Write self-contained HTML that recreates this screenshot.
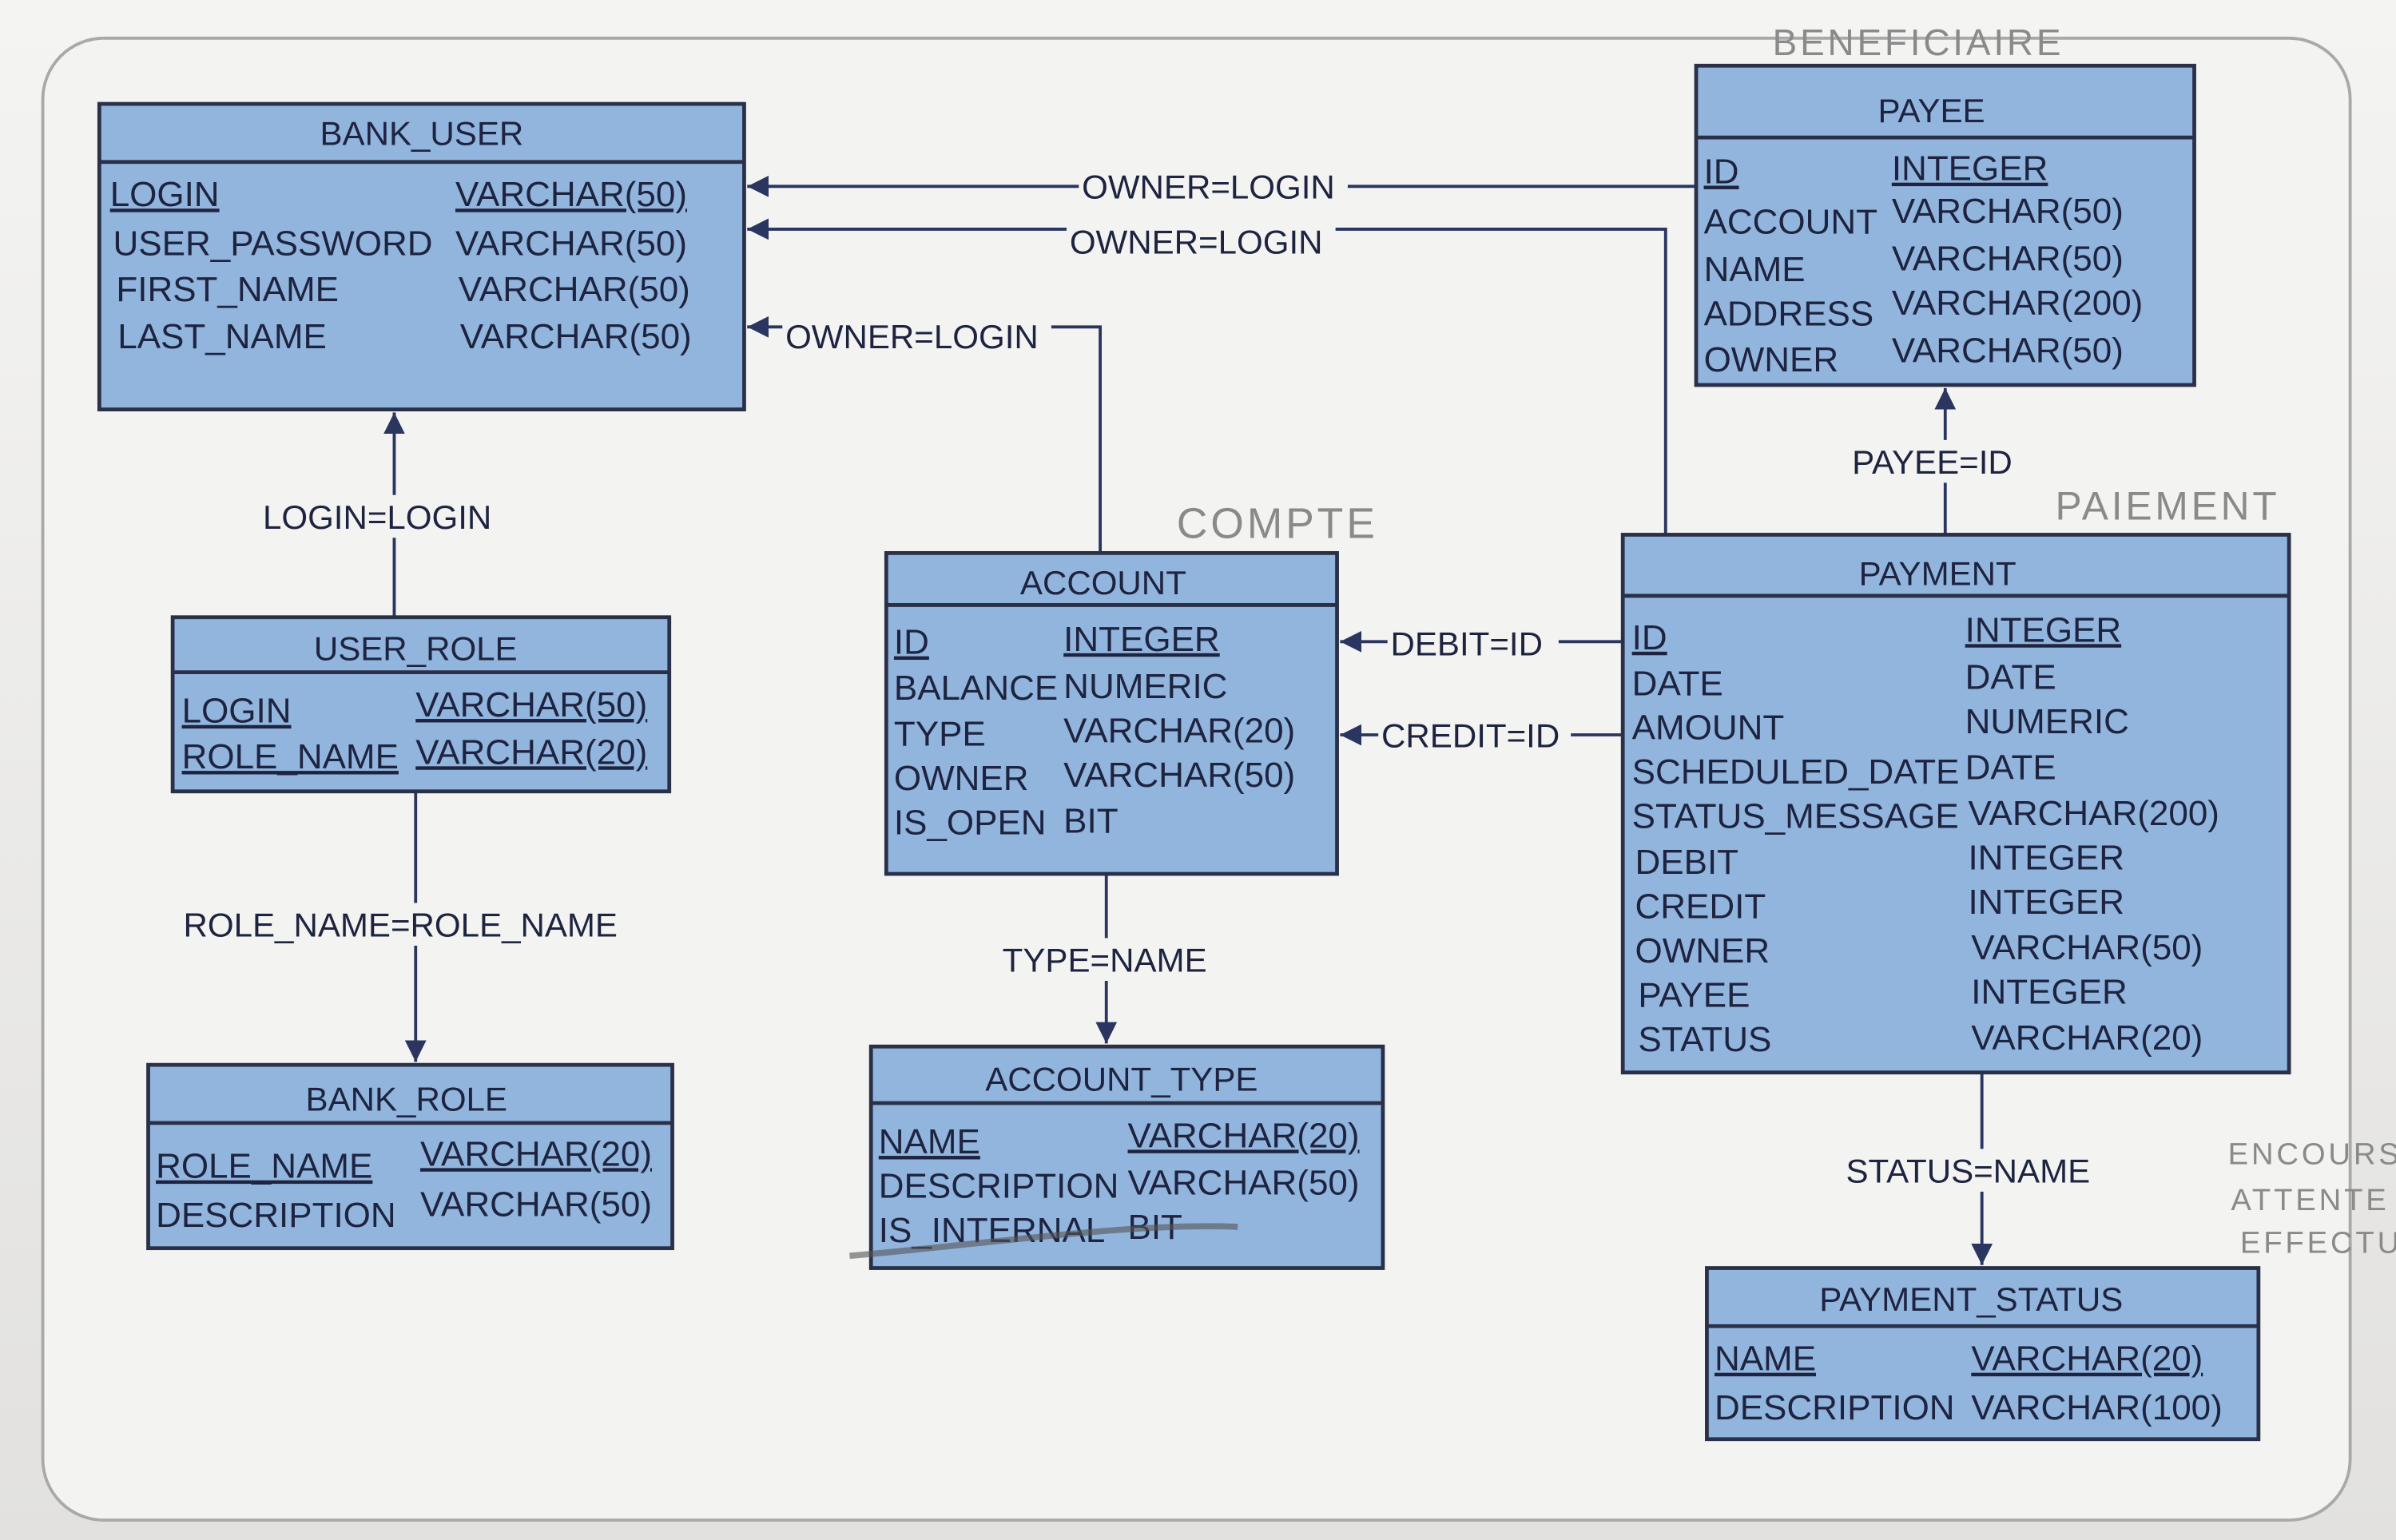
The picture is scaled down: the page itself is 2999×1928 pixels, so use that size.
<!DOCTYPE html>
<html><head><meta charset="utf-8"><style>
html,body{margin:0;padding:0;background:#eceae6;}
svg{display:block;}
text{font-family:"Liberation Sans",sans-serif;fill:#1e2440;}
.t{font-size:23px;}
.h{font-size:22px;text-anchor:middle;}
.l{font-size:22px;}
.hw{font-family:"Liberation Sans",sans-serif;font-size:28px;fill:#8a8a8a;letter-spacing:2px;}
</style></head><body>
<svg width="2999" height="1928" viewBox="0 0 1568 1008" preserveAspectRatio="none" xmlns="http://www.w3.org/2000/svg">
<defs>
<linearGradient id="bg" x1="0" y1="0" x2="0" y2="1"><stop offset="0" stop-color="#f4f4f2"/><stop offset="1" stop-color="#e2e1df"/></linearGradient>
<marker id="a" viewBox="0 0 10 10" refX="10" refY="5" markerWidth="7" markerHeight="7" orient="auto-start-reverse"><path d="M0,0 L10,5 L0,10 z" fill="#2a3560"/></marker>
</defs>
<rect width="1568" height="1008" fill="url(#bg)"/>
<rect x="28" y="25" width="1510" height="970" rx="40" fill="#f3f3f1" stroke="#a9a9a9" stroke-width="2"/>

<g stroke="#2a3560" stroke-width="2" fill="none">
<path d="M1110,122 H489" marker-end="url(#a)"/>
<path d="M1090,358 V150 H489" marker-end="url(#a)"/>
<path d="M720,362 V214 H489" marker-end="url(#a)"/>
<path d="M258,404 V270" marker-end="url(#a)"/>
<path d="M272,518 V695" marker-end="url(#a)"/>
<path d="M724,572 V683" marker-end="url(#a)"/>
<path d="M1062,420 H877" marker-end="url(#a)"/>
<path d="M1062,481 H877" marker-end="url(#a)"/>
<path d="M1273,350 V254" marker-end="url(#a)"/>
<path d="M1297,702 V828" marker-end="url(#a)"/>
</g>
<g fill="#f3f3f1">
<rect x="706" y="108" width="176" height="28"/>
<rect x="698" y="144" width="176" height="28"/>
<rect x="512" y="206" width="176" height="28"/>
<rect x="170" y="324" width="170" height="28"/>
<rect x="118" y="591" width="300" height="28"/>
<rect x="654" y="614" width="138" height="28"/>
<rect x="908" y="407" width="112" height="28"/>
<rect x="902" y="467" width="126" height="28"/>
<rect x="1210" y="288" width="122" height="28"/>
<rect x="1206" y="752" width="178" height="28"/>
</g>
<g class="l">
<text x="708" y="130" class="l">OWNER=LOGIN</text>
<text x="700" y="166" class="l">OWNER=LOGIN</text>
<text x="514" y="228" class="l">OWNER=LOGIN</text>
<text x="172" y="346" class="l">LOGIN=LOGIN</text>
<text x="120" y="613" class="l">ROLE_NAME=ROLE_NAME</text>
<text x="656" y="636" class="l">TYPE=NAME</text>
<text x="910" y="429" class="l">DEBIT=ID</text>
<text x="904" y="489" class="l">CREDIT=ID</text>
<text x="1212" y="310" class="l">PAYEE=ID</text>
<text x="1208" y="774" class="l">STATUS=NAME</text>
</g>

<g stroke="#2a3048" stroke-width="2.5" fill="#92b5de">
<rect x="65" y="68" width="422" height="200"/><line x1="65" y1="106" x2="487" y2="106"/>
<rect x="1110" y="43" width="326" height="209"/><line x1="1110" y1="90" x2="1436" y2="90"/>
<rect x="580" y="362" width="295" height="210"/><line x1="580" y1="396" x2="875" y2="396"/>
<rect x="113" y="404" width="325" height="114"/><line x1="113" y1="440" x2="438" y2="440"/>
<rect x="97" y="697" width="343" height="120"/><line x1="97" y1="735" x2="440" y2="735"/>
<rect x="570" y="685" width="335" height="145"/><line x1="570" y1="722" x2="905" y2="722"/>
<rect x="1062" y="350" width="436" height="352"/><line x1="1062" y1="390" x2="1498" y2="390"/>
<rect x="1117" y="830" width="361" height="112"/><line x1="1117" y1="868" x2="1478" y2="868"/>
</g>

<g class="h">
<text x="276" y="95" class="h">BANK_USER</text>
<text x="1264" y="80" class="h">PAYEE</text>
<text x="722" y="389" class="h">ACCOUNT</text>
<text x="272" y="432" class="h">USER_ROLE</text>
<text x="266" y="727" class="h">BANK_ROLE</text>
<text x="734" y="714" class="h">ACCOUNT_TYPE</text>
<text x="1268" y="383" class="h">PAYMENT</text>
<text x="1290" y="858" class="h">PAYMENT_STATUS</text>
</g>

<g class="t">
<text x="72" y="135" text-decoration="underline">LOGIN</text><text x="298" y="135" text-decoration="underline">VARCHAR(50)</text>
<text x="74" y="167">USER_PASSWORD</text><text x="298" y="167">VARCHAR(50)</text>
<text x="76" y="197">FIRST_NAME</text><text x="300" y="197">VARCHAR(50)</text>
<text x="77" y="228">LAST_NAME</text><text x="301" y="228">VARCHAR(50)</text>

<text x="1115" y="120" text-decoration="underline">ID</text><text x="1238" y="118" text-decoration="underline">INTEGER</text>
<text x="1115" y="153">ACCOUNT</text><text x="1238" y="146">VARCHAR(50)</text>
<text x="1115" y="184">NAME</text><text x="1238" y="177">VARCHAR(50)</text>
<text x="1115" y="213">ADDRESS</text><text x="1238" y="206">VARCHAR(200)</text>
<text x="1115" y="243">OWNER</text><text x="1238" y="237">VARCHAR(50)</text>

<text x="585" y="428" text-decoration="underline">ID</text><text x="696" y="426" text-decoration="underline">INTEGER</text>
<text x="585" y="458">BALANCE</text><text x="696" y="457">NUMERIC</text>
<text x="585" y="488">TYPE</text><text x="696" y="486">VARCHAR(20)</text>
<text x="585" y="517">OWNER</text><text x="696" y="515">VARCHAR(50)</text>
<text x="585" y="546">IS_OPEN</text><text x="696" y="545">BIT</text>

<text x="119" y="473" text-decoration="underline">LOGIN</text><text x="272" y="469" text-decoration="underline">VARCHAR(50)</text>
<text x="119" y="503" text-decoration="underline">ROLE_NAME</text><text x="272" y="500" text-decoration="underline">VARCHAR(20)</text>

<text x="102" y="771" text-decoration="underline">ROLE_NAME</text><text x="275" y="763" text-decoration="underline">VARCHAR(20)</text>
<text x="102" y="803">DESCRIPTION</text><text x="275" y="796">VARCHAR(50)</text>

<text x="575" y="755" text-decoration="underline">NAME</text><text x="738" y="751" text-decoration="underline">VARCHAR(20)</text>
<text x="575" y="784">DESCRIPTION</text><text x="738" y="782">VARCHAR(50)</text>
<text x="575" y="813">IS_INTERNAL</text><text x="738" y="811">BIT</text>

<text x="1068" y="425" text-decoration="underline">ID</text><text x="1286" y="420" text-decoration="underline">INTEGER</text>
<text x="1068" y="455">DATE</text><text x="1286" y="451">DATE</text>
<text x="1068" y="484">AMOUNT</text><text x="1286" y="480">NUMERIC</text>
<text x="1068" y="513">SCHEDULED_DATE</text><text x="1286" y="510">DATE</text>
<text x="1068" y="542">STATUS_MESSAGE</text><text x="1288" y="540">VARCHAR(200)</text>
<text x="1070" y="572">DEBIT</text><text x="1288" y="569">INTEGER</text>
<text x="1070" y="601">CREDIT</text><text x="1288" y="598">INTEGER</text>
<text x="1070" y="630">OWNER</text><text x="1290" y="628">VARCHAR(50)</text>
<text x="1072" y="659">PAYEE</text><text x="1290" y="657">INTEGER</text>
<text x="1072" y="688">STATUS</text><text x="1290" y="687">VARCHAR(20)</text>

<text x="1122" y="897" text-decoration="underline">NAME</text><text x="1290" y="897" text-decoration="underline">VARCHAR(20)</text>
<text x="1122" y="929">DESCRIPTION</text><text x="1290" y="929">VARCHAR(100)</text>
</g>
<path d="M556,822 C640,815 740,800 810,803" stroke="#555" stroke-width="4" fill="none" opacity="0.6"/>

<text x="1160" y="36" class="hw" style="font-size:24px">BENEFICIAIRE</text>
<text x="770" y="352" class="hw">COMPTE</text>
<text x="1345" y="340" class="hw" style="font-size:26px">PAIEMENT</text>
<text x="1458" y="762" class="hw" style="font-size:20px">ENCOURS</text>
<text x="1460" y="792" class="hw" style="font-size:20px">ATTENTE</text>
<text x="1466" y="820" class="hw" style="font-size:20px">EFFECTU</text>
</svg>
</body></html>
